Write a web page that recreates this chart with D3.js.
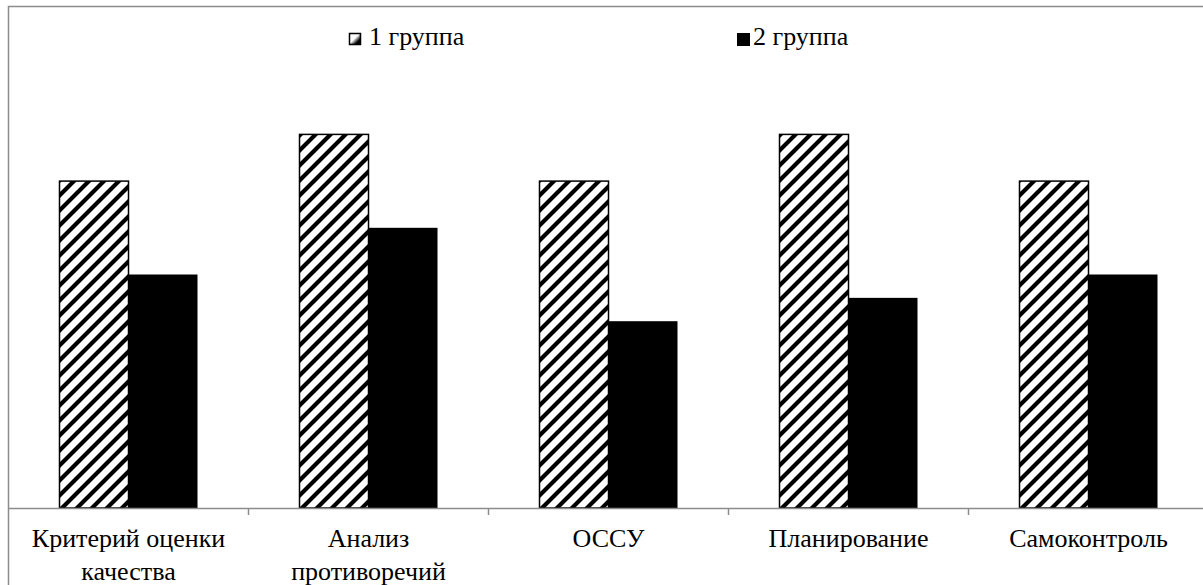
<!DOCTYPE html>
<html><head><meta charset="utf-8">
<script src="https://cdn.jsdelivr.net/npm/d3@7/dist/d3.min.js"></script>
<style>html,body{margin:0;padding:0;background:#fff}svg{display:block}
text{font-family:"Liberation Serif","Times New Roman",Tinos,serif;fill:#000}</style>
</head><body><svg id="c" width="1203" height="585"></svg>
<script>
const categories = [["Критерий оценки","качества"],["Анализ","противоречий"],["ОССУ"],["Планирование"],["Самоконтроль"]];
const seriesNames = ["1 группа","2 группа"];
const group1 = [7, 8, 7, 8, 7];
const group2 = [5, 6, 4, 4.5, 5];

(function(){
const svg = d3.select("#c");
const W = 1203, H = 585;
const mLeft = 8.5, mRight = 1208.5, mTop = 41, mBottom = 508;

// hatch pattern
const defs = svg.append("defs");
const P = 15;
const pat = defs.append("pattern").attr("id","hatch").attr("patternUnits","userSpaceOnUse")
  .attr("width",P).attr("height",P);
pat.append("rect").attr("width",P).attr("height",P).attr("fill","#fff");
pat.append("path").attr("d",`M-3,${P+3} L${P+3},-3 M-3,3 L3,-3 M${P-3},${P+3} L${P+3},${P-3}`).attr("stroke","#000").attr("stroke-width",4.2);
const grad = defs.append("linearGradient").attr("id","lg1").attr("x1","0").attr("y1","0").attr("x2","1").attr("y2","1");
grad.append("stop").attr("offset","0.45").attr("stop-color","#fff");
grad.append("stop").attr("offset","0.75").attr("stop-color","#000");

// frame
svg.append("path").attr("d",`M${mLeft},${H} V6.5 H${W}`).attr("fill","none").attr("stroke","#8c8c8c").attr("stroke-width",1.5);

const x0 = d3.scaleBand().domain(d3.range(categories.length)).range([mLeft, mRight]).paddingInner(0).paddingOuter(0);
const y = d3.scaleLinear().domain([0,10]).range([mBottom, mTop]);
const bw = 69;

const g = svg.append("g");
categories.forEach((c,i)=>{
  const cx = x0(i) + x0.bandwidth()/2;
  g.append("rect").attr("x",cx-bw).attr("y",y(group1[i])).attr("width",bw).attr("height",y(0)-y(group1[i]))
    .attr("fill","url(#hatch)").attr("stroke","#000").attr("stroke-width",1.5);
  g.append("rect").attr("x",cx).attr("y",y(group2[i])).attr("width",bw).attr("height",y(0)-y(group2[i]))
    .attr("fill","#000");
});

// axis
const axis = d3.axisBottom(x0).tickSize(0).tickFormat("");
const ax = svg.append("g").attr("transform",`translate(0,${mBottom})`).call(axis);
ax.select(".domain").attr("stroke","#8c8c8c").attr("stroke-width",1.5);
const bounds = d3.range(1,categories.length).map(i=>x0(i));
svg.selectAll(".btick").data(bounds).enter().append("line")
  .attr("x1",d=>d).attr("x2",d=>d).attr("y1",mBottom).attr("y2",mBottom+7)
  .attr("stroke","#8c8c8c").attr("stroke-width",1.5);

// labels
categories.forEach((c,i)=>{
  const cx = x0(i) + x0.bandwidth()/2;
  const t = svg.append("text").attr("x",cx).attr("y",547).attr("text-anchor","middle")
    .attr("font-size",26);
  c.forEach((line,k)=>t.append("tspan").attr("x",cx).attr("dy",k===0?0:33).text(line));
});

// legend
const lg = svg.append("g");
lg.append("rect").attr("x",349.5).attr("y",33.5).attr("width",11).attr("height",11).attr("fill","url(#lg1)").attr("stroke","#000").attr("stroke-width",1.5);
lg.append("text").attr("x",369).attr("y",45).attr("font-size",26).text(seriesNames[0]);
lg.append("rect").attr("x",737).attr("y",33).attr("width",13).attr("height",13).attr("fill","#000");
lg.append("text").attr("x",753).attr("y",45).attr("font-size",26).text(seriesNames[1]);
})();
</script></body></html>
